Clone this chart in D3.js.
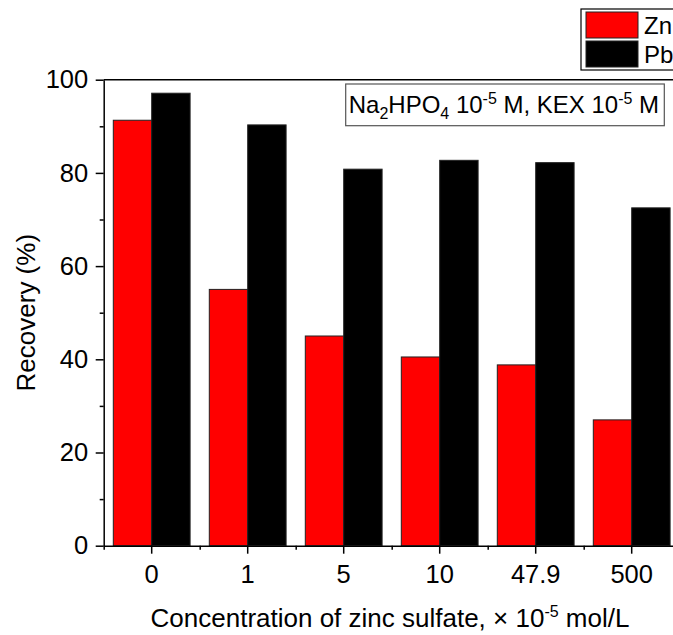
<!DOCTYPE html>
<html>
<head>
<meta charset="utf-8">
<script src="https://cdn.jsdelivr.net/npm/d3@7"></script>
<style>
  html, body { margin: 0; padding: 0; background: #fff; overflow: hidden; }
  svg { display: block; font-family: Arial, "Liberation Sans", sans-serif; }
</style>
</head>
<body>
<div id="chart"></div>
<script>
// Data
const categories = ['0', '1', '5', '10', '47.9', '500'];
const seriesNames = ['Zn', 'Pb'];
const znValues = [91.3, 55.0, 45.0, 40.5, 38.8, 27.0];
const pbValues = [97.1, 90.3, 80.8, 82.7, 82.2, 72.5];
const yTicks = [0, 20, 40, 60, 80, 100];
const yMinorTicks = [10, 30, 50, 70, 90];
const colors = { Zn: '#ff0000', Pb: '#000000' };

const width = 673, height = 635;
const margin = { top: 79.7, left: 103.7 };
const plotW = 576, plotH = 466;
const tickFont = 25.5;
const titleFont = 26;
const boxFont = 24;
const subFont = 16;

const svg = d3.select('#chart').append('svg')
  .attr('width', width)
  .attr('height', height);

const g = svg.append('g')
  .attr('transform', `translate(${margin.left},${margin.top})`);

// Scales
const x = d3.scaleBand()
  .domain(categories)
  .range([0, plotW])
  .paddingInner(0.2)
  .paddingOuter(0.1);

const xSub = d3.scaleBand()
  .domain(seriesNames)
  .range([0, x.bandwidth()]);

const y = d3.scaleLinear().domain([0, 100]).range([plotH, 0]);

const rows = categories.map((c, i) => ({ cat: c, Zn: znValues[i], Pb: pbValues[i] }));

// Bars
const groups = g.append('g').attr('class', 'bars')
  .selectAll('g')
  .data(rows)
  .join('g')
  .attr('transform', d => `translate(${x(d.cat)},0)`);

groups.selectAll('rect')
  .data(d => seriesNames.map(k => ({ key: k, value: d[k] })))
  .join('rect')
  .attr('x', d => xSub(d.key))
  .attr('y', d => y(d.value))
  .attr('width', xSub.bandwidth())
  .attr('height', d => plotH - y(d.value))
  .attr('fill', d => colors[d.key])
  .attr('stroke', '#222')
  .attr('stroke-width', 1);

// Frame (top and right lines)
g.append('path')
  .attr('d', `M0,0H${plotW}V${plotH}`)
  .attr('fill', 'none')
  .attr('stroke', '#000')
  .attr('stroke-width', 1.5);

// Y axis
const yAxis = g.append('g')
  .call(d3.axisLeft(y).tickValues(yTicks).tickSize(8).tickPadding(7.5).tickSizeOuter(0));
yAxis.append('g')
  .call(d3.axisLeft(y).tickValues(yMinorTicks).tickSize(4).tickFormat('').tickSizeOuter(0))
  .select('.domain').remove();

// X axis
const xAxis = g.append('g')
  .attr('transform', `translate(0,${plotH})`)
  .call(d3.axisBottom(x).tickSize(8).tickPadding(11).tickSizeOuter(0));
const boundaries = d3.range(categories.length + 1).map(i => i * x.step());
xAxis.append('g')
  .call(d3.axisBottom(d3.scaleLinear().domain([0, plotW]).range([0, plotW]))
    .tickValues(boundaries).tickSize(4).tickFormat('').tickSizeOuter(0))
  .select('.domain').remove();

g.selectAll('.domain').attr('stroke', '#000').attr('stroke-width', 1.5);
g.selectAll('.tick line').attr('stroke', '#000').attr('stroke-width', 1.5);
g.selectAll('.tick text')
  .attr('fill', '#000')
  .style('font-size', `${tickFont}px`)
  .style('font-family', 'Arial, "Liberation Sans", sans-serif');

// Axis titles
svg.append('text')
  .attr('transform', `translate(35,${margin.top + plotH / 2}) rotate(-90)`)
  .attr('text-anchor', 'middle')
  .style('font-size', `${titleFont}px`)
  .text('Recovery (%)');

const xTitle = svg.append('text')
  .attr('x', 390)
  .attr('y', 627)
  .attr('text-anchor', 'middle')
  .style('font-size', `${titleFont}px`);
xTitle.append('tspan').text('Concentration of zinc sulfate, × 10');
xTitle.append('tspan').attr('dy', -10).style('font-size', `${subFont}px`).text('-5');
xTitle.append('tspan').attr('dy', 10).text(' mol/L');

// Annotation box
const ann = svg.append('g').attr('transform', 'translate(345.7,84)');
ann.append('rect')
  .attr('width', 318.6)
  .attr('height', 41.7)
  .attr('fill', '#fff')
  .attr('stroke', '#555')
  .attr('stroke-width', 1.2);
const annText = ann.append('text')
  .attr('x', 3)
  .attr('y', 28.5)
  .style('font-size', `${boxFont}px`);
annText.append('tspan').text('Na');
annText.append('tspan').attr('dy', 6).style('font-size', `${subFont}px`).text('2');
annText.append('tspan').attr('dy', -6).text('HPO');
annText.append('tspan').attr('dy', 6).style('font-size', `${subFont}px`).text('4');
annText.append('tspan').attr('dy', -6).text(' 10');
annText.append('tspan').attr('dy', -9).style('font-size', `${subFont}px`).text('-5');
annText.append('tspan').attr('dy', 9).text(' M, KEX 10');
annText.append('tspan').attr('dy', -9).style('font-size', `${subFont}px`).text('-5');
annText.append('tspan').attr('dy', 9).text(' M');

// Legend
const legend = svg.append('g').attr('transform', 'translate(581,9)');
legend.append('rect')
  .attr('width', 130)
  .attr('height', 61)
  .attr('fill', '#fff')
  .attr('stroke', '#000')
  .attr('stroke-width', 1.2);
const items = legend.selectAll('g.item')
  .data(seriesNames)
  .join('g')
  .attr('class', 'item')
  .attr('transform', (d, i) => `translate(5,${3 + i * 29})`);
items.append('rect')
  .attr('width', 52)
  .attr('height', 26)
  .attr('fill', d => colors[d])
  .attr('stroke', '#222');
items.append('text')
  .attr('x', 58)
  .attr('y', 22)
  .style('font-size', `${boxFont}px`)
  .text(d => d);
</script>
</body>
</html>
